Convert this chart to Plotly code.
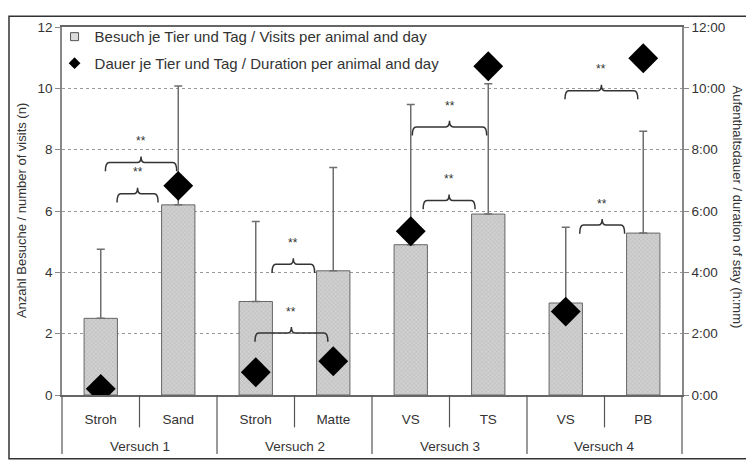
import plotly.graph_objects as go

# ---- data ----
groups = ["Versuch 1", "Versuch 2", "Versuch 3", "Versuch 4"]
variants = ["Stroh", "Sand", "Stroh", "Matte", "VS", "TS", "VS", "PB"]
variant_group = [0, 0, 1, 1, 2, 2, 3, 3]
visits = [2.5, 6.2, 3.05, 4.05, 4.9, 5.9, 3.0, 5.28]
visits_err = [2.25, 3.88, 2.61, 3.37, 4.57, 4.25, 2.47, 3.32]
duration_h = [0.2, 6.82, 0.74, 1.1, 5.34, 10.72, 2.72, 10.98]
left_ticks = [0, 2, 4, 6, 8, 10, 12]
right_tickvals = [0, 2, 4, 6, 8, 10, 12]
right_ticktext = ["0:00", "2:00", "4:00", "6:00", "8:00", "10:00", "12:00"]
# significance braces: (x start index, x end index, y level)
braces = [(0.06, 0.98, 7.58), (0.21, 0.74, 6.56),
          (2.21, 2.76, 4.26), (1.99, 2.93, 2.02),
          (4.02, 4.98, 8.74), (4.16, 4.83, 6.34),
          (5.99, 6.93, 9.92), (6.18, 6.76, 5.54)]
brace_labels = ["**"] * 8

FONT = "Liberation Sans, Arial, sans-serif"
TXT = "#333333"

cats = [f"{groups[g]}|{v}" for g, v in zip(variant_group, variants)]
n = len(cats)

fig = go.Figure()

fig.add_trace(go.Bar(
    x=cats, y=visits, width=0.43,
    marker=dict(color="#cccccc", line=dict(color="#666666", width=1),
                pattern=dict(shape="x", size=3, fgcolor="#959595",
                             bgcolor="#d0d0d0", solidity=0.25)),
    error_y=dict(type="data", symmetric=False, array=visits_err,
                 arrayminus=[0] * len(visits), color="#6e6e6e",
                 thickness=1.5, width=4),
    showlegend=False, hoverinfo="skip"))

fig.add_trace(go.Scatter(
    x=cats, y=duration_h, yaxis="y2", mode="markers",
    marker=dict(symbol="diamond", size=23, color="black"),
    showlegend=False, hoverinfo="skip"))

# helper trace for overlay axis
fig.add_trace(go.Scatter(x=[0], y=[0], xaxis="x2", mode="markers",
                         marker=dict(opacity=0), showlegend=False,
                         hoverinfo="skip"))

# legend entries
fig.add_trace(go.Scatter(x=[None], y=[None], xaxis="x2", mode="markers",
                         name="Besuch je Tier und Tag / Visits per animal and day",
                         legendgroup="a",
                         marker=dict(symbol="square", size=8, color="#dcdcdc",
                                     line=dict(color="#555555", width=1))))
fig.add_trace(go.Scatter(x=[None], y=[None], xaxis="x2", mode="markers",
                         name="Dauer je Tier und Tag / Duration per animal and day",
                         legendgroup="b",
                         marker=dict(symbol="diamond", size=9, color="black")))

shapes = []
d, c, w = 0.28, 0.2, 0.05
for x0, x1, y in braces:
    xm = (x0 + x1) / 2
    path = (f"M {x0},{y-d} Q {x0},{y} {x0+w},{y} L {xm-w},{y} "
            f"Q {xm},{y} {xm},{y+c} Q {xm},{y} {xm+w},{y} "
            f"L {x1-w},{y} Q {x1},{y} {x1},{y-d}")
    shapes.append(dict(type="path", path=path, xref="x2", yref="y",
                       line=dict(color="#333333", width=1.5)))

# category separators below axis
for i in range(n + 1):
    xp = i / n
    long = (i % 2 == 0)
    shapes.append(dict(type="line", xref="paper", yref="paper",
                       x0=xp, x1=xp, y0=0, y1=-0.16 if long else -0.088,
                       line=dict(color="#555555", width=1.2)))

# outer frame
shapes.append(dict(type="rect", xref="paper", yref="paper",
                   x0=-0.0855, x1=1.111, y0=-0.173, y1=1.029,
                   line=dict(color="#333333", width=1.5)))

annotations = []
for (x0, x1, y), t in zip(braces, brace_labels):
    annotations.append(dict(x=(x0 + x1) / 2, y=y + 0.7, xref="x2", yref="y",
                            text=t, showarrow=False, xanchor="center",
                            yanchor="middle",
                            font=dict(size=12, color=TXT, family=FONT)))
for gi, g in enumerate(groups):
    annotations.append(dict(x=(2 * gi + 1) / n, y=-0.139, xref="paper",
                            yref="paper", text=g, showarrow=False,
                            xanchor="center", yanchor="middle",
                            font=dict(size=13.5, color=TXT, family=FONT)))
annotations.append(dict(x=-0.066, y=0.5, xref="paper", yref="paper",
                        text="Anzahl Besuche / number of visits (n)",
                        textangle=-90, showarrow=False,
                        xanchor="center", yanchor="middle",
                        font=dict(size=13, color=TXT, family=FONT)))
annotations.append(dict(x=1.09, y=0.51, xref="paper", yref="paper",
                        text="Aufenthaltsdauer / duration of stay (h:mm)",
                        textangle=90, showarrow=False,
                        xanchor="center", yanchor="middle",
                        font=dict(size=13, color=TXT, family=FONT)))

fig.update_layout(
    width=746, height=455,
    margin=dict(l=54, r=72, t=12, b=68),
    paper_bgcolor="white", plot_bgcolor="white",
    font=dict(family=FONT, size=13, color=TXT),
    xaxis=dict(type="category", range=[-0.5, n - 0.5],
               tickvals=cats, ticktext=variants,
               showline=True, linecolor="#666666", linewidth=1.5,
               mirror=True, ticks="", ticklabelstandoff=11,
               tickfont=dict(size=13.5, color=TXT)),
    xaxis2=dict(overlaying="x", range=[-0.5, n - 0.5], visible=False),
    yaxis=dict(range=[0, 12], tickvals=left_ticks, showline=True,
               linecolor="#888888", linewidth=1.5, ticks="outside",
               ticklen=5, tickcolor="#888888",
               showgrid=True, gridcolor="#999999", griddash="dot",
               gridwidth=1, zeroline=False,
               tickfont=dict(size=13.5, color=TXT)),
    yaxis2=dict(range=[0, 12], overlaying="y", side="right",
                tickvals=right_tickvals, ticktext=right_ticktext,
                showline=True, linecolor="#888888", linewidth=1.5,
                ticks="outside", ticklen=5, tickcolor="#888888",
                showgrid=False, zeroline=False,
                tickfont=dict(size=13.5, color=TXT)),
    legend=dict(x=-0.012, y=1.018, xanchor="left", yanchor="top",
                bgcolor="rgba(0,0,0,0)", font=dict(size=15, color=TXT),
                traceorder="grouped", tracegroupgap=4, itemwidth=30),
    shapes=shapes, annotations=annotations,
)

fig.write_html("out.html")
